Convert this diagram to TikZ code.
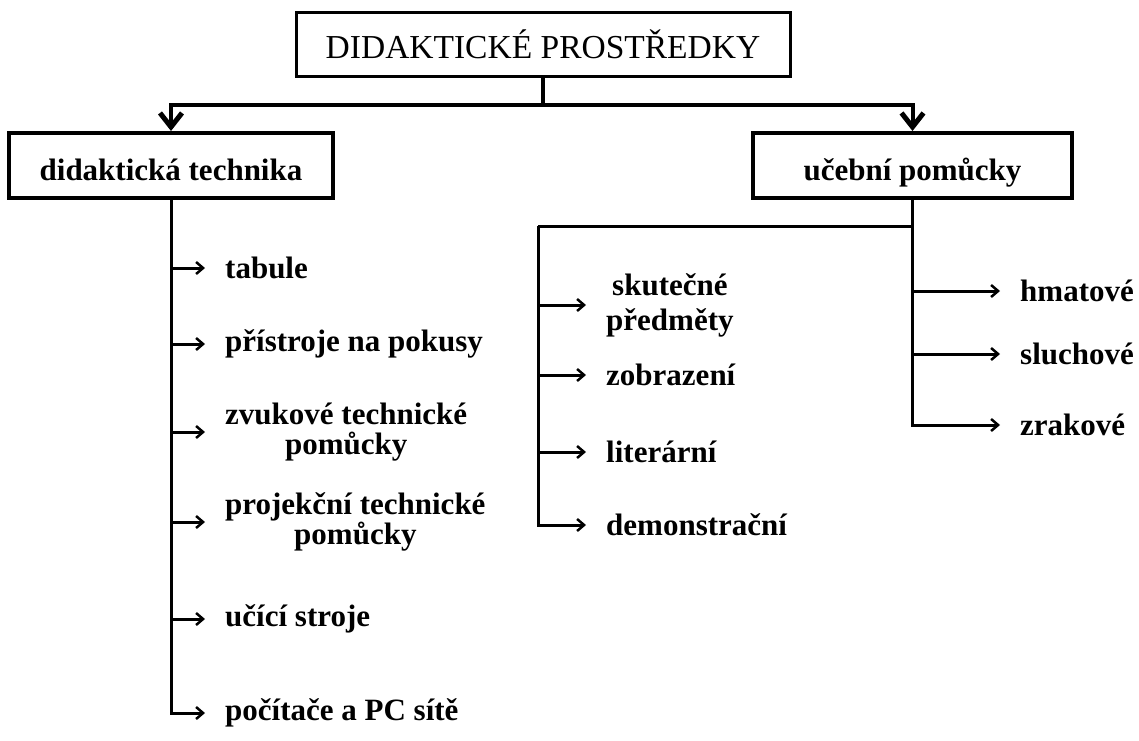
\documentclass[tikz,border=0pt]{standalone}
\usepackage{fontspec}
\setmainfont{Liberation Serif}
\usetikzlibrary{arrows.meta}
\begin{document}
\begin{tikzpicture}[x=1pt,y=-1pt,
  headbox/.style={draw, line width=3pt, minimum width=494pt, minimum height=64pt,
    inner sep=0pt, font=\fontsize{33.5}{36}\selectfont},
  catbox/.style={draw, line width=4pt, minimum height=65pt, inner sep=0pt,
    text height=29pt, text depth=0pt,
    font=\bfseries\fontsize{31}{32}\selectfont},
  item/.style={anchor=west, inner sep=0pt, align=center,
    font=\bfseries\fontsize{31}{30}\selectfont},
  stem/.style={line width=4pt},
  down/.style={line width=4pt, -{Straight Barb[length=14pt,width=22pt,line width=5pt]}},
  link/.style={line width=3pt},
  branch/.style={line width=3pt, shorten >=20pt,
    -{Straight Barb[length=7pt,width=12pt,line width=2.5pt]}},
]
\useasboundingbox (0,0) rectangle (1139,740);

% boxes
\node[headbox] (top) at (543,44) {DIDAKTICKÉ PROSTŘEDKY};
\node[catbox, minimum width=324pt] (dt) at (171,165.5) {didaktická technika};
\node[catbox, minimum width=319pt] (up) at (912.5,165.5) {učební pomůcky};

% split under the title
\coordinate (bar) at (543,105);
\draw[stem] (top.south) -- (bar);
\draw[down] (bar) -| (dt.north);
\draw[down] (bar) -| (up.north);

% didaktická technika
\node[item] (l1) at (225,268) {tabule};
\node[item] (l2) at (225,344) {přístroje na pokusy};
\node[item] (l3) at (225,432) {zvukové technické\\pomůcky};
\node[item] (l4) at (225,522) {projekční technické\\pomůcky};
\node[item] (l5) at (225,619) {učící stroje};
\node[item] (l6) at (225,713) {počítače a PC sítě};
\foreach \n in {l1,l2,l3,l4,l5,l6}
  \draw[branch] (dt.south) |- (\n.west);

% učební pomůcky
\coordinate (lj) at (538,226);
\coordinate (rj) at (up.south |- lj);
\draw[link] (up.south) -- (rj) -- (lj);

\node[item] (m1) at (606,305) {skutečné\\[5pt]předměty};
\node[item] (m2) at (606,375) {zobrazení};
\node[item] (m3) at (606,452) {literární};
\node[item] (m4) at (606,525) {demonstrační};
\foreach \n in {m1,m2,m3,m4}
  \draw[branch] (lj) |- (\n.west);

\node[item] (r1) at (1020,291) {hmatové};
\node[item] (r2) at (1020,354) {sluchové};
\node[item] (r3) at (1020,425) {zrakové};
\foreach \n in {r1,r2,r3}
  \draw[branch] (rj) |- (\n.west);
\end{tikzpicture}
\end{document}
